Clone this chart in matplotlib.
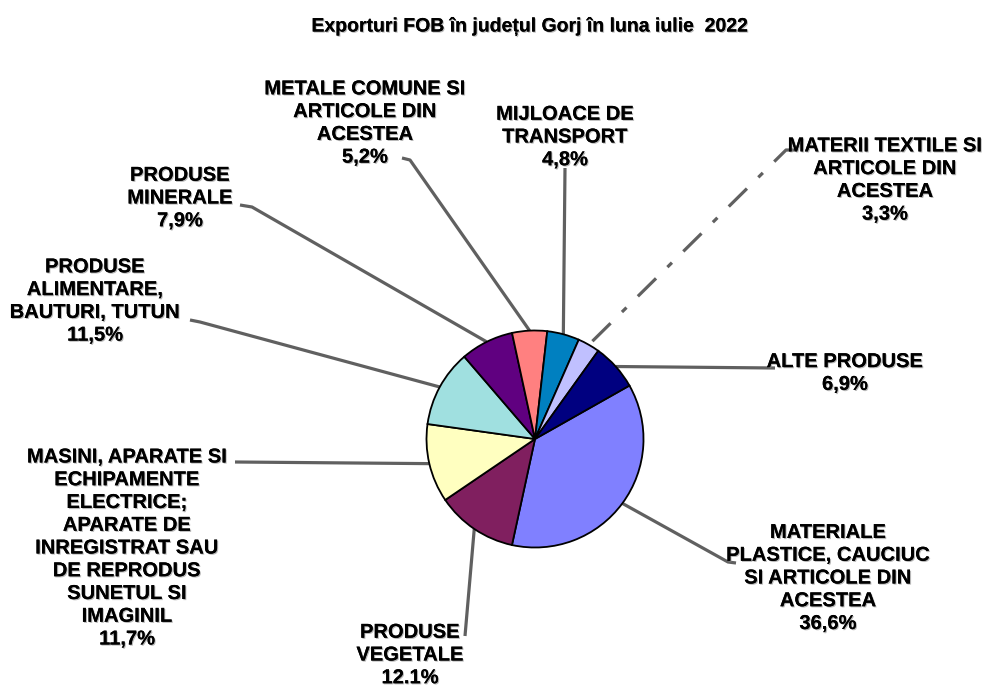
import numpy as np
import matplotlib.pyplot as plt
import matplotlib.patheffects as pe

# date: exporturi FOB, judetul Gorj, iulie 2022 (%)
categorii = [
    "MATERIALE\nPLASTICE, CAUCIUC\nSI ARTICOLE DIN\nACESTEA",
    "PRODUSE\nVEGETALE",
    "MASINI, APARATE SI\nECHIPAMENTE\nELECTRICE;\nAPARATE DE\nINREGISTRAT SAU\nDE REPRODUS\nSUNETUL SI\nIMAGINIL",
    "PRODUSE\nALIMENTARE,\nBAUTURI, TUTUN",
    "PRODUSE\nMINERALE",
    "METALE COMUNE SI\nARTICOLE DIN\nACESTEA",
    "MIJLOACE DE\nTRANSPORT",
    "MATERII TEXTILE SI\nARTICOLE DIN\nACESTEA",
    "ALTE PRODUSE",
]
valori = [36.6, 12.1, 11.7, 11.5, 7.9, 5.2, 4.8, 3.3, 6.9]
etichete_proc = ["36,6%", "12.1%", "11,7%", "11,5%", "7,9%", "5,2%", "4,8%", "3,3%", "6,9%"]
culori = ["#8080FF", "#801F5F", "#FFFFC0", "#A0E0E0", "#600080",
          "#FF8080", "#0080C0", "#C0C0FF", "#000080"]

# pozitia textelor (pixeli) si cotul liniei de legatura
pozitii_text = [(828, 578), (410, 655), (127, 548), (95, 301), (180, 198),
                (365, 123), (565, 137), (885, 180), (845, 373)]
capete_linie = [(736, 563), (465, 636), (235, 462), (190, 320), (240, 205),
                (402, 158), (565, 168), (795, 150), (775, 368)]
coturi = [(728, 562), (465, 636), (235, 462), (200, 322), (252, 207),
          (410, 160), (565, 168), (786, 150), (775, 368)]

plt.rcParams['font.family'] = ['Liberation Sans', 'DejaVu Sans']

fig = plt.figure(figsize=(9.98, 6.9), dpi=100)
ax = fig.add_axes([0, 0, 1, 1])

centru = (535, 439)
raza = 108.5
# cu axa y inversata, counterclock=True se vede in sensul acelor de ceasornic
wedges, _ = ax.pie(valori, colors=culori, startangle=-29.5, counterclock=True,
                   center=centru, radius=raza, frame=True,
                   wedgeprops=dict(edgecolor='black', linewidth=1.3))
ax.set_xlim(0, 998)
ax.set_ylim(690, 0)  # axa y inversata -> coordonate in pixeli
ax.set_aspect('equal')
ax.axis('off')

umbra = [pe.withSimplePatchShadow(offset=(0.8, -0.8), shadow_rgbFace='#888888', alpha=0.6), pe.Normal()]

for i, w in enumerate(wedges):
    mij = np.deg2rad((w.theta1 + w.theta2) / 2)
    px = centru[0] + raza * np.cos(mij)
    py = centru[1] + raza * np.sin(mij)
    stil = (0, (8, 5, 2, 5)) if i == 7 else '-'
    ax.plot([capete_linie[i][0], coturi[i][0], px], [capete_linie[i][1], coturi[i][1], py],
            color='#606060', lw=2.3, linestyle=stil, solid_capstyle='butt', zorder=0)
    ax.text(pozitii_text[i][0], pozitii_text[i][1], categorii[i] + "\n" + etichete_proc[i],
            ha='center', va='center', fontsize=14.5, fontweight='bold', linespacing=1.25,
            path_effects=umbra)

ax.text(530, 27, "Exporturi FOB în județul Gorj în luna iulie  2022", ha='center', va='center',
        fontsize=14, fontweight='bold', path_effects=umbra)

fig.savefig("out.png", dpi=100)
